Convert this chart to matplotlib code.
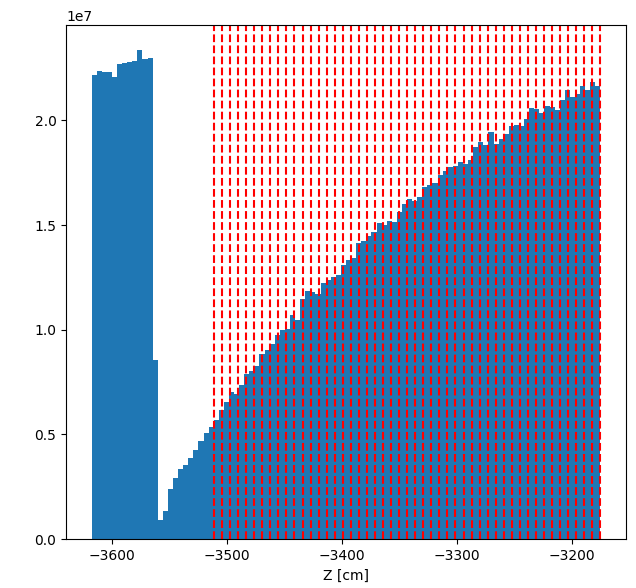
import numpy as np
import matplotlib
matplotlib.use("Agg")
import matplotlib.pyplot as plt

# histogram range and bin count
z_min = -3617.4
z_max = -3175.0
n_bins = 100

# counts per bin (in units of 1e7)
counts = [
    2.215, 2.237, 2.229, 2.232, 2.205, 2.267, 2.275, 2.278, 2.285, 2.337,
    2.293, 2.296, 0.858, 0.090, 0.137, 0.239, 0.293, 0.333, 0.353, 0.390,
    0.428, 0.468, 0.506, 0.535, 0.568, 0.617, 0.655, 0.702, 0.695, 0.736,
    0.791, 0.803, 0.826, 0.886, 0.905, 0.931, 0.974, 1.001, 1.006, 1.069,
    1.049, 1.149, 1.184, 1.179, 1.173, 1.223, 1.236, 1.252, 1.260, 1.311,
    1.332, 1.345, 1.414, 1.422, 1.446, 1.467, 1.510, 1.502, 1.518, 1.515,
    1.562, 1.602, 1.624, 1.613, 1.634, 1.682, 1.690, 1.700, 1.740, 1.760,
    1.777, 1.780, 1.801, 1.790, 1.812, 1.873, 1.896, 1.881, 1.944, 1.889,
    1.913, 1.937, 1.971, 1.979, 1.971, 2.005, 2.061, 2.056, 2.035, 2.068,
    2.064, 2.048, 2.099, 2.143, 2.111, 2.127, 2.166, 2.147, 2.183, 2.164,
]

# red dashed marker positions [cm]
layer_z = [
    -3511, -3504, -3497, -3490, -3483, -3476, -3469, -3462, -3455, -3448,
    -3441, -3434, -3427, -3420, -3413, -3406, -3399, -3392, -3385, -3378,
    -3371, -3364, -3357, -3350, -3343, -3336, -3329, -3322, -3315, -3308,
    -3301, -3294, -3287, -3280, -3273, -3266, -3259, -3252, -3245, -3238,
    -3231, -3224, -3217, -3210, -3203, -3196, -3189, -3182, -3175,
]

edges = np.linspace(z_min, z_max, n_bins + 1)
weights = np.array(counts) * 1e7

fig, ax = plt.subplots(figsize=(6.36, 5.88), dpi=100)
fig.subplots_adjust(left=0.104, right=0.984, top=0.957, bottom=0.083)

ax.hist(edges[:-1], bins=edges, weights=weights)
for z in layer_z:
    ax.axvline(z, color='red', linestyle='--')

ax.set_xlabel('Z [cm]')

fig.savefig('out.png', dpi=100)
plt.close(fig)
